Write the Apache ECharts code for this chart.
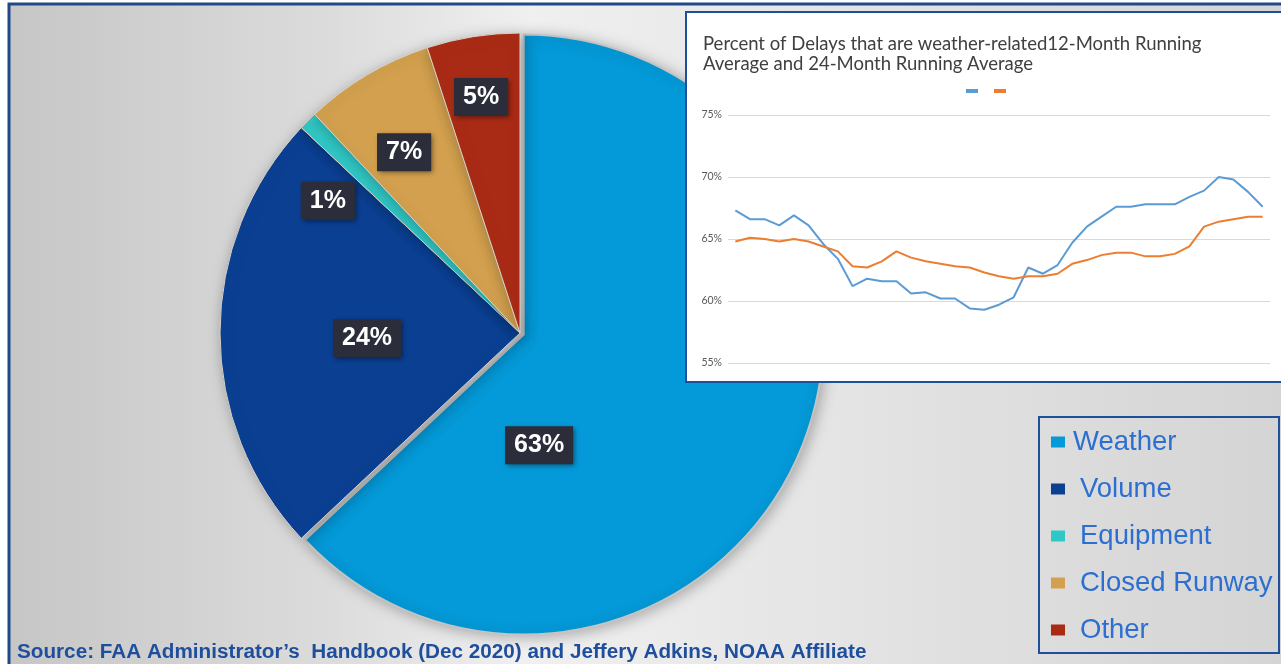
<!DOCTYPE html>
<html>
<head>
<meta charset="utf-8">
<script src="https://cdn.jsdelivr.net/npm/echarts@6/dist/echarts.min.js"></script>
<style>
html,body{margin:0;padding:0;background:#ffffff;}
#chart{width:1281px;height:664px;}
</style>
</head>
<body>
<div id="chart"></div>
<script>
// ---------- data ----------
const pieCategories = ['Weather', 'Volume', 'Equipment', 'Closed Runway', 'Other'];
const pieValues = [63, 24, 1, 7, 5];

const periods = ['1','2','3','4','5','6','7','8','9','10','11','12','13','14','15','16','17','18','19',
                 '20','21','22','23','24','25','26','27','28','29','30','31','32','33','34','35','36','37'];
const running12 = [67.3, 66.6, 66.6, 66.1, 66.9, 66.1, 64.6, 63.4, 61.2, 61.8, 61.6, 61.6, 60.6, 60.7,
                   60.2, 60.2, 59.4, 59.3, 59.7, 60.3, 62.7, 62.2, 62.9, 64.7, 66.0, 66.8, 67.6, 67.6,
                   67.8, 67.8, 67.8, 68.4, 68.9, 70.0, 69.8, 68.8, 67.6];
const running24 = [64.8, 65.1, 65.0, 64.8, 65.0, 64.8, 64.4, 64.0, 62.8, 62.7, 63.2, 64.0, 63.5, 63.2,
                   63.0, 62.8, 62.7, 62.3, 62.0, 61.8, 62.0, 62.0, 62.2, 63.0, 63.3, 63.7, 63.9, 63.9,
                   63.6, 63.6, 63.8, 64.4, 66.0, 66.4, 66.6, 66.8, 66.8];
const yTicks = [55, 60, 65, 70, 75];
const lineNames = ['12-Month Running Average', '24-Month Running Average'];
const insetTitle = 'Percent of Delays that are weather-related12-Month Running\nAverage and 24-Month Running Average';
const sourceText = 'Source: FAA Administrator\u2019s  Handbook (Dec 2020) and Jeffery Adkins, NOAA Affiliate';

// ---------- styles ----------
const pieColors = ['#0499d8', '#0b3f92', '#30c8c6', '#d2a04e', '#aa2b15'];
const labelShift = [[-125, 50], [0, 5], [-84, -24], [-38, -49], [-15, -85]]; // label nudges (px)

const chart = echarts.init(document.getElementById('chart'), null, {renderer: 'canvas'});

const legendRich = {
  a: { fontFamily: 'Liberation Sans', fontSize: 27.5, color: '#2c6fd1', padding: [0,0,0,3] },
  b: { fontFamily: 'Liberation Sans', fontSize: 27.5, color: '#2c6fd1', padding: [0,0,0,10] }
};

const option = {
  backgroundColor: 'transparent',
  animation: false,
  graphic: [
    { type: 'rect', z: 0, silent: true,
      shape: { x: 9, y: 4, width: 1300, height: 700 },
      style: { fill: { type: 'linear', x: 0, y: 0, x2: 1, y2: 0,
        colorStops: [ {offset: 0, color: '#c6c6c6'}, {offset: 0.25, color: '#dcdcdc'},
                      {offset: 0.4, color: '#f0f0f0'}, {offset: 0.6, color: '#e6e6e6'},
                      {offset: 1, color: '#d3d3d3'} ] },
        stroke: '#21498a', lineWidth: 3 } },
    { type: 'rect', z: 5, silent: true,
      shape: { x: 686, y: 12, width: 620, height: 370 },
      style: { fill: '#ffffff', stroke: '#1f4f98', lineWidth: 2 } },
    { type: 'text', z: 12, silent: true, left: 703, top: 34,
      style: { text: insetTitle, font: '18.5px Lato', fill: '#404040', lineHeight: 20 } },
    { type: 'rect', z: 5, silent: true,
      shape: { x: 1039, y: 417, width: 240, height: 236 },
      style: { fill: 'rgba(0,0,0,0)', stroke: '#1f4f98', lineWidth: 2 } },
    { type: 'text', z: 12, silent: true, left: 17, top: 642,
      style: { text: sourceText, font: 'bold 20.7px "Liberation Sans"', fill: '#1f4f9c' } }
  ],
  legend: [
    { data: pieCategories, orient: 'vertical', left: 1051, top: 427, z: 12, padding: 0,
      icon: 'rect', itemWidth: 14, itemHeight: 11, itemGap: 17, selectedMode: false,
      itemStyle: { borderWidth: 0, shadowBlur: 0 },
      formatter: function (name) { return (name === 'Weather' ? '{a|' : '{b|') + name + '}'; },
      textStyle: { fontFamily: 'Liberation Sans', fontSize: 27.5, color: '#2c6fd1', lineHeight: 30, rich: legendRich } },
    { data: lineNames, left: 966, top: 89, z: 12, padding: 0, icon: 'rect', itemWidth: 12, itemHeight: 4,
      itemGap: 11, selectedMode: false, formatter: function () { return ''; },
      textStyle: { fontSize: 4, lineHeight: 4 } }
  ],
  grid: { left: 728, right: 11, top: 115, bottom: 301, z: 8 },
  xAxis: { type: 'category', data: periods, boundaryGap: true, z: 8,
    axisLine: { show: false }, axisTick: { show: false }, axisLabel: { show: false } },
  yAxis: { type: 'value', min: yTicks[0], max: yTicks[yTicks.length - 1], interval: 5, z: 8,
    axisLine: { show: false }, axisTick: { show: false },
    axisLabel: { formatter: '{value}%', fontFamily: 'Lato', fontSize: 10.5, color: '#595959', margin: 6 },
    splitLine: { lineStyle: { color: '#d9d9d9', width: 1 } } },
  series: [
    { type: 'pie', z: 2, center: [520, 333], radius: 300, startAngle: 90, clockwise: true,
      selectedMode: 'single', selectedOffset: 4, avoidLabelOverlap: false,
      emphasis: { disabled: true },
      itemStyle: { borderColor: '#d8d2c8', borderWidth: 1, shadowBlur: 14, shadowColor: 'rgba(0,0,0,0.28)', shadowOffsetX: 2, shadowOffsetY: 2 },
      label: { show: true, position: 'inside', formatter: '{c}%', color: '#ffffff', fontWeight: 'bold',
        fontFamily: 'Liberation Sans', fontSize: 25, lineHeight: 25, backgroundColor: '#2b2d3a',
        padding: [7, 9, 6, 9], shadowColor: 'rgba(0,0,0,0.45)', shadowBlur: 5, shadowOffsetX: 2, shadowOffsetY: 2 },
      labelLine: { show: false },
      labelLayout: function (p) { const s = labelShift[p.dataIndex]; return { dx: s[0], dy: s[1] }; },
      data: pieCategories.map(function (n, i) {
        return { name: n, value: pieValues[i], selected: i === 0,
          itemStyle: i === 0 ? { color: pieColors[i], borderColor: '#c4c4c4', borderWidth: 2 } : { color: pieColors[i] } };
      }) },
    { type: 'line', name: lineNames[0], z: 10, data: running12, showSymbol: false, symbol: 'none',
      lineStyle: { color: '#5b9bd5', width: 2 }, itemStyle: { color: '#5b9bd5' } },
    { type: 'line', name: lineNames[1], z: 10, data: running24, showSymbol: false, symbol: 'none',
      lineStyle: { color: '#ed7d31', width: 2 }, itemStyle: { color: '#ed7d31' } }
  ]
};
chart.setOption(option);
</script>
</body>
</html>
